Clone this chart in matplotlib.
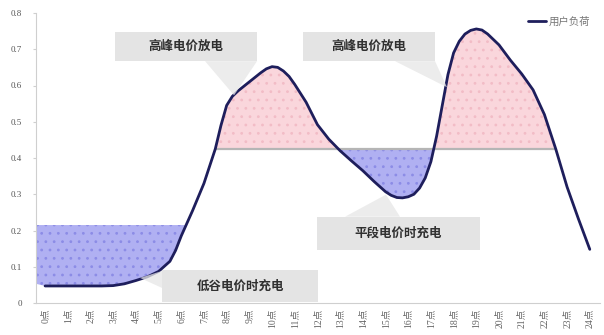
import matplotlib
matplotlib.use('Agg')
import matplotlib.pyplot as plt
from matplotlib.patches import Polygon, Rectangle
import numpy as np

# ---- data ----
hours = [0, 0.5, 1, 1.5, 2, 2.5, 3, 3.5, 4, 4.5, 5, 5.5, 5.75, 6, 6.5, 7, 7.5, 7.75, 8, 8.25,
         8.5, 9, 9.5, 9.75, 10, 10.25, 10.5, 10.75, 11, 11.5, 12, 12.5, 13, 13.5, 14, 14.5,
         15, 15.25, 15.5, 15.75, 16, 16.25, 16.5, 16.75, 17, 17.25, 17.5, 17.75, 18, 18.25,
         18.5, 18.75, 19, 19.25, 19.5, 20, 20.5, 21, 21.5, 22, 22.5, 23, 23.5, 24]
load = [0.047, 0.047, 0.047, 0.047, 0.047, 0.047, 0.048, 0.053, 0.062, 0.072, 0.087, 0.115,
        0.145, 0.185, 0.255, 0.33, 0.425, 0.49, 0.545, 0.57,
        0.585, 0.61, 0.635, 0.646, 0.652, 0.65, 0.64, 0.625, 0.603, 0.554, 0.492, 0.452,
        0.42, 0.392, 0.365, 0.335, 0.307, 0.297, 0.291, 0.29, 0.293, 0.3, 0.317, 0.345,
        0.39, 0.46, 0.545, 0.63, 0.69, 0.722,
        0.742, 0.752, 0.756, 0.753, 0.742, 0.712, 0.67, 0.632, 0.588, 0.52, 0.425, 0.32,
        0.232, 0.148]
tick_hours = list(range(25))
tick_labels = [f"{h}点" for h in tick_hours]
yticks = [0, 0.1, 0.2, 0.3, 0.4, 0.5, 0.6, 0.7, 0.8]
ytick_labels = ['0', '0.1', '0.2', '0.3', '0.4', '0.5', '0.6', '0.7', '0.8']
peak_level = 0.426
valley_level = 0.215
series_name = '用户负荷'
callout_texts = ['高峰电价放电', '高峰电价放电', '平段电价时充电', '低谷电价时充电']

cjk = ['Noto Sans CJK SC', 'DejaVu Sans']
serif = ['Liberation Serif', 'Noto Sans CJK SC']
plt.rcParams['hatch.linewidth'] = 0.8

x = np.array(hours, dtype=float)
y = np.array(load, dtype=float)

fig = plt.figure(figsize=(6.04, 3.35), dpi=100)
ax = fig.add_axes([36 / 604, 1 - 303 / 335, (600 - 36) / 604, (303 - 13) / 335])
xmin, xmax = -0.4, 24.45
ax.set_xlim(xmin, xmax)
ax.set_ylim(0, 0.8)

# valley (left) blue fill
xl = np.concatenate([[xmin], x])
yl = np.concatenate([[y[0] + 0.006], y])
ax.fill_between(xl, yl, valley_level, where=(yl < valley_level) & (xl < 8), interpolate=True,
                facecolor='#b0b0f2', edgecolor='#8c8ce6', hatch='..', linewidth=0, zorder=1)
# mid blue fill
ax.fill_between(x, y, peak_level, where=(y < peak_level) & (x > 11) & (x < 18), interpolate=True,
                facecolor='#b0b0f2', edgecolor='#8c8ce6', hatch='..', linewidth=0, zorder=1)
# pink fills
ax.fill_between(x, y, peak_level, where=(y > peak_level), interpolate=True,
                facecolor='#fad6dc', edgecolor='#f2bcc6', hatch='..', linewidth=0, zorder=1)

# horizontal peak line between first and last crossing
cross = []
for i in range(len(x) - 1):
    a, b = y[i] - peak_level, y[i + 1] - peak_level
    if a * b < 0:
        cross.append(x[i] + (x[i + 1] - x[i]) * (-a) / (b - a))
ax.hlines(peak_level, cross[0], cross[-1], color='#b5b5b5', linewidth=1.6, zorder=2)

# main line
ax.plot(x, y, color='#1e1e5c', linewidth=2.0, zorder=4, solid_capstyle='round',
        solid_joinstyle='round', label=series_name)


def px(xp, yp):
    return ((xp - 45) / 22.7, (303 - yp) * 0.8 / 289)


def box(x0, y0, x1, y1, text):
    (a, b), (c, d) = px(x0, y1), px(x1, y0)
    ax.add_patch(Rectangle((a, b), c - a, d - b, facecolor='#e4e4e4', edgecolor='none', zorder=5))
    ax.text((a + c) / 2, (b + d) / 2, text, ha='center', va='center', fontsize=9,
            fontweight='bold', color='#303030', family=cjk, zorder=6)


def pointer(pts):
    ax.add_patch(Polygon([px(*p) for p in pts], closed=True, facecolor='#e6e6e6',
                         edgecolor='none', alpha=0.75, zorder=5))


pointer([(205, 62), (257, 62), (234, 96)])
box(115, 33, 257, 62, callout_texts[0])
pointer([(395, 62), (435, 62), (447, 88)])
box(303, 33, 435, 62, callout_texts[1])
pointer([(345, 217), (400, 217), (386, 195)])
box(317, 217, 480, 250, callout_texts[2])
pointer([(162, 271), (162, 288), (140, 278)])
box(162, 270, 318, 302, callout_texts[3])

# axes styling
for s in ['top', 'right']:
    ax.spines[s].set_visible(False)
ax.spines['left'].set_color('#cfcfcf')
ax.spines['bottom'].set_color('#cfcfcf')
ax.set_yticks(yticks)
ax.set_yticklabels(ytick_labels, family=serif, fontsize=6.5, color='#555555')
ax.set_xticks(tick_hours)
ax.set_xticklabels(tick_labels, rotation=90, family=serif, fontsize=7, color='#666666')
ax.tick_params(axis='y', length=2, color='#cfcfcf', pad=8)
ax.tick_params(axis='x', length=0, pad=4)

leg = ax.legend(loc='upper right', bbox_to_anchor=(1.0, 1.02), frameon=False,
                prop={'family': cjk, 'size': 7.5}, handlelength=1.7, handletextpad=0.3)
for t in leg.get_texts():
    t.set_color('#777777')

fig.savefig('out.png', dpi=100, facecolor='white')
